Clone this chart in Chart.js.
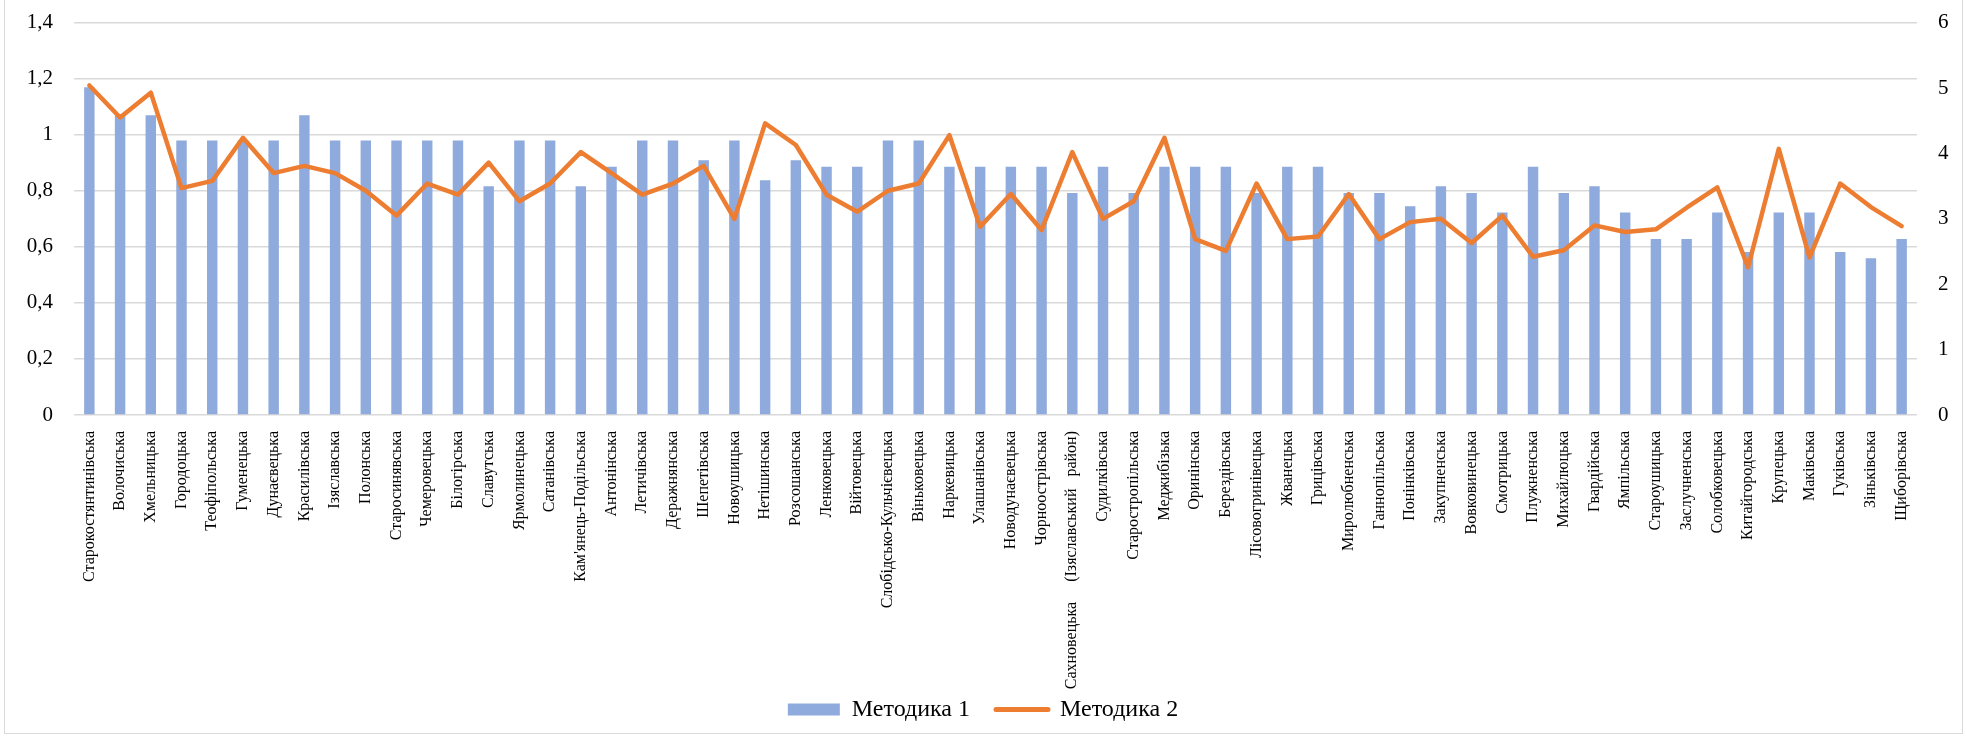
<!DOCTYPE html>
<html>
<head>
<meta charset="utf-8">
<script src="https://cdn.jsdelivr.net/npm/chart.js@4.4.1/dist/chart.umd.min.js"></script>
<style>
  html, body { margin: 0; padding: 0; background: #fff; }
  #wrap { position: relative; width: 1966px; height: 739px; }
  #frame {
    position: absolute; left: 4px; top: -2px; width: 1959px; height: 736px;
    border: 1.5px solid #d9d9d9; pointer-events: none; box-sizing: border-box;
  }
</style>
</head>
<body>
<div id="wrap">
  <canvas id="chart"></canvas>
  <div id="frame"></div>
</div>
<script>
// громади (категорії осі X)
const hromady = [
  "Старокостянтинівська", "Волочиська", "Хмельницька", "Городоцька", "Теофіпольська",
  "Гуменецька", "Дунаєвецька", "Красилівська", "Ізяславська", "Полонська",
  "Старосинявська", "Чемеровецька", "Білогірська", "Славутська", "Ярмолинецька",
  "Сатанівська", "Кам'янець-Подільська", "Антонінська", "Летичівська", "Деражнянська",
  "Шепетівська", "Новоушицька", "Нетішинська", "Розсошанська", "Ленковецька",
  "Війтовецька", "Слобідсько-Кульчієвецька", "Віньковецька", "Наркевицька", "Улашанівська",
  "Новодунаєвецька", "Чорноострівська", "Сахновецька     (Ізяславський   район)", "Судилківська", "Старостропільська",
  "Меджибізька", "Оринінська", "Берездівська", "Лісовогринівецька", "Жванецька",
  "Грицівська", "Миролюбненська", "Ганнопільська", "Понінківська", "Закупненська",
  "Вовковинецька", "Смотрицька", "Плужненська", "Михайлюцька", "Гвардійська",
  "Ямпільська", "Староушицька", "Заслучненська", "Солобковецька", "Китайгородська",
  "Крупецька", "Маківська", "Гуківська", "Зіньківська", "Щиборівська"
];

// Методика 1 (ліва вісь)
const metodyka1 = [
  1.17, 1.07, 1.07, 0.98, 0.98, 0.98, 0.98, 1.07, 0.98, 0.98,
  0.98, 0.98, 0.98, 0.816, 0.98, 0.98, 0.816, 0.886, 0.98, 0.98,
  0.909, 0.98, 0.838, 0.909, 0.886, 0.886, 0.98, 0.98, 0.886, 0.886,
  0.886, 0.886, 0.792, 0.886, 0.792, 0.886, 0.886, 0.886, 0.792, 0.886,
  0.886, 0.792, 0.792, 0.745, 0.816, 0.792, 0.723, 0.886, 0.792, 0.816,
  0.723, 0.628, 0.628, 0.723, 0.582, 0.723, 0.723, 0.582, 0.559, 0.628
];

// Методика 2 (права вісь)
const metodyka2 = [
  5.04, 4.55, 4.93, 3.47, 3.58, 4.24, 3.70, 3.81, 3.70, 3.43,
  3.05, 3.54, 3.37, 3.86, 3.27, 3.54, 4.02, 3.70, 3.37, 3.54,
  3.81, 3.00, 4.46, 4.13, 3.37, 3.11, 3.43, 3.54, 4.28, 2.88,
  3.38, 2.83, 4.02, 3.00, 3.27, 4.24, 2.69, 2.51, 3.54, 2.69,
  2.73, 3.38, 2.69, 2.95, 3.00, 2.63, 3.05, 2.42, 2.52, 2.90,
  2.80, 2.84, 3.17, 3.48, 2.26, 4.07, 2.41, 3.54, 3.18, 2.89
];

const leftTicks = { min: 0, max: 1.4, step: 0.2 };
const rightTicks = { min: 0, max: 6, step: 1 };

const serif = "'Liberation Serif', 'Times New Roman', serif";
const fmt = v => String(Math.round(v * 10) / 10).replace('.', ',');

const PAD_BOTTOM = 7.5;
const PLOT_BOTTOM = 415; // де лежить нуль

// щоб відступ підписів не зсував область графіка
function fixY(width) {
  return scale => {
    scale.width = width;
    scale.paddingTop = 0;
    scale.paddingBottom = 0;
  };
}

new Chart(document.getElementById('chart'), {
  data: {
    labels: hromady,
    datasets: [
      {
        type: 'line',
        label: 'Методика 2',
        data: metodyka2,
        yAxisID: 'y1',
        borderColor: '#ed7d31',
        backgroundColor: '#ed7d31',
        borderWidth: 4.5,
        borderCapStyle: 'round',
        borderJoinStyle: 'round',
        pointRadius: 0,
        tension: 0,
        order: 0
      },
      {
        type: 'bar',
        label: 'Методика 1',
        data: metodyka1,
        yAxisID: 'y',
        backgroundColor: '#8faadc',
        borderWidth: 0,
        barPercentage: 0.34,
        categoryPercentage: 1,
        order: 1
      }
    ]
  },
  options: {
    responsive: true,
    maintainAspectRatio: false,
    animation: false,
    layout: { padding: { left: 0, right: 0, top: 22.7, bottom: PAD_BOTTOM } },
    plugins: {
      tooltip: { enabled: false },
      legend: {
        position: 'bottom',
        labels: {
          usePointStyle: true,
          pointStyleWidth: 52,
          boxHeight: 12,
          padding: 8,
          color: '#000',
          font: { family: serif, size: 24 },
          generateLabels(chart) {
            // бар першим, лінія другою
            return [1, 0].map(i => {
              const ds = chart.data.datasets[i];
              const isLine = ds.type === 'line';
              return {
                text: isLine ? ds.label : ds.label + '   ',
                datasetIndex: i,
                fillStyle: ds.backgroundColor,
                strokeStyle: ds.borderColor || ds.backgroundColor,
                lineWidth: isLine ? 5 : 0,
                lineCap: 'round',
                pointStyle: isLine ? 'line' : 'rect',
                hidden: false
              };
            });
          }
        }
      }
    },
    scales: {
      x: {
        grid: { display: false },
        border: { display: false },
        ticks: {
          autoSkip: false,
          maxRotation: 90,
          minRotation: 90,
          padding: 8,
          color: '#000',
          font: { family: serif, size: 16 }
        },
        afterFit(scale) {
          const lh = scale.chart.legend ? scale.chart.legend.height : 45;
          scale.height = 739 - PAD_BOTTOM - lh - PLOT_BOTTOM;
        }
      },
      y: {
        position: 'left',
        min: leftTicks.min,
        max: leftTicks.max,
        grid: { color: '#d9d9d9', lineWidth: 1.5, drawTicks: false },
        border: { display: false },
        ticks: {
          stepSize: leftTicks.step,
          padding: 21,
          color: '#000',
          font: { family: serif, size: 21 },
          callback: v => fmt(v)
        },
        afterFit: fixY(74)
      },
      y1: {
        position: 'right',
        min: rightTicks.min,
        max: rightTicks.max,
        grid: { display: false, drawTicks: false },
        border: { display: false },
        ticks: {
          stepSize: rightTicks.step,
          padding: 21,
          color: '#000',
          font: { family: serif, size: 21 },
          callback: v => fmt(v)
        },
        afterFit: fixY(49)
      }
    }
  }
});
</script>
</body>
</html>
